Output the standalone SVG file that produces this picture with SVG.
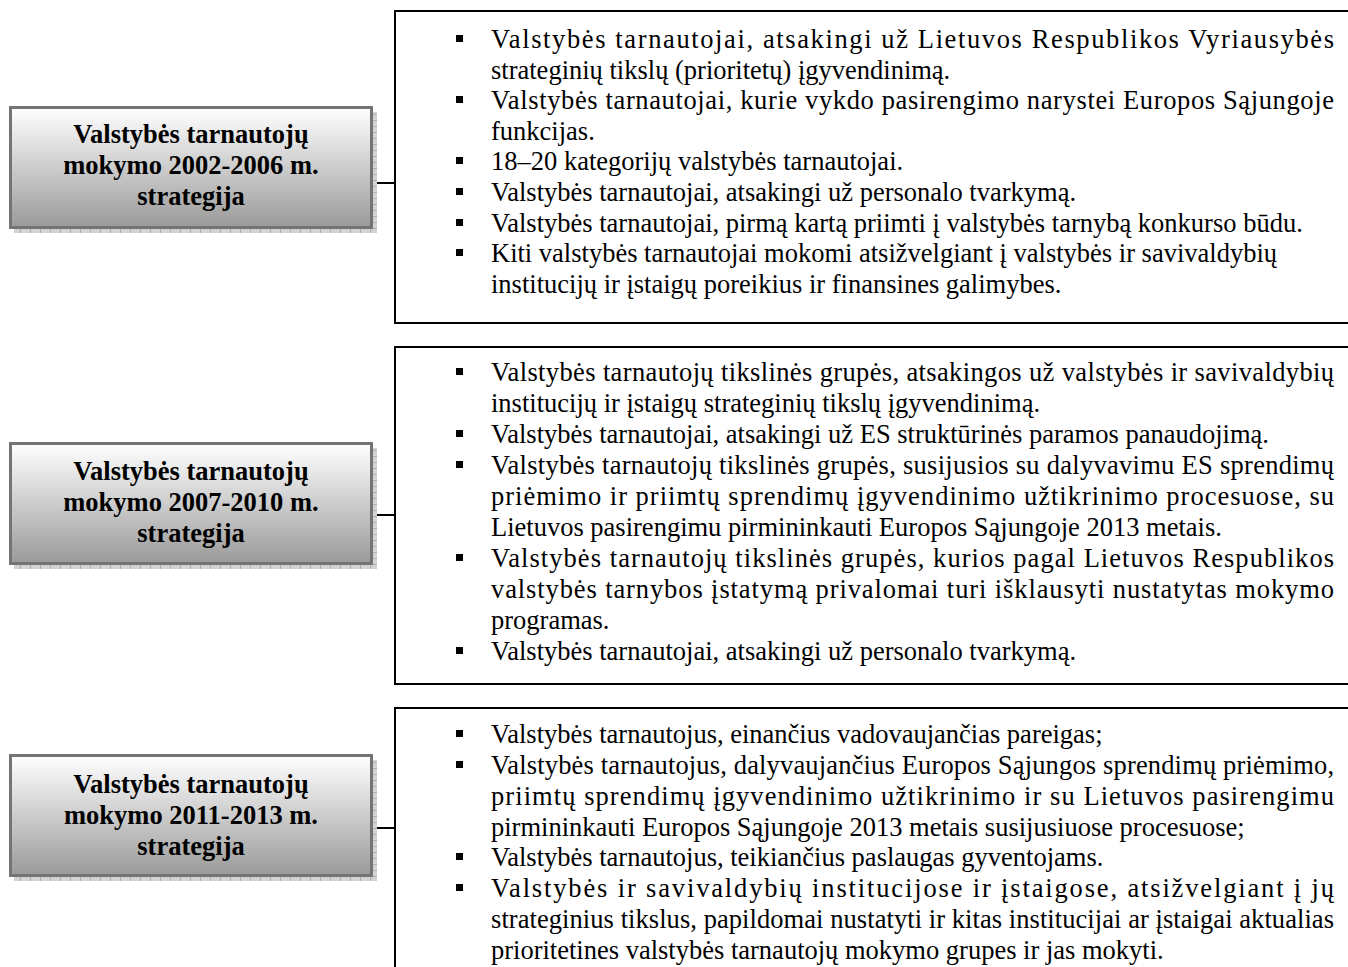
<svg xmlns="http://www.w3.org/2000/svg" width="1348" height="967" viewBox="0 0 1348 967">
<style>
.t{font-family:"Liberation Serif","Times New Roman",serif;font-size:26.5px;fill:#000}
.h{font-family:"Liberation Serif","Times New Roman",serif;font-size:26.5px;font-weight:bold;fill:#000;text-anchor:middle}
.box{fill:url(#g);stroke:#747474;stroke-width:3}
.sh{fill:url(#hatch)}
.frame{fill:none;stroke:#000;stroke-width:2}
.conn{stroke:#000;stroke-width:2;fill:none}
.b{fill:#000}
</style>
<defs>
<linearGradient id="g" x1="0" y1="0" x2="0" y2="1">
<stop offset="0" stop-color="#ffffff"/>
<stop offset="1" stop-color="#9a9a9a"/>
</linearGradient>
<pattern id="hatch" width="10" height="6" patternUnits="userSpaceOnUse">
<rect width="10" height="6" fill="#d4d4d4"/>
<path d="M0 0.5H10M0.5 0V6" stroke="#b0b0b0" stroke-width="1"/>
</pattern>
</defs>

<g id="connectors">
<line class="conn" x1="372" y1="183" x2="395" y2="183"/>
<line class="conn" x1="372" y1="515" x2="395" y2="515"/>
<line class="conn" x1="372" y1="828" x2="395" y2="828"/>
</g>

<g id="strategy-2002">
<path class="sh" d="M373 112H377V233H14V229H373Z"/>
<rect class="box" x="10.5" y="107.5" width="361" height="120"/>
<text class="h" x="191" y="143">Valstybės tarnautojų</text>
<text class="h" x="191" y="174">mokymo 2002-2006 m.</text>
<text class="h" x="191" y="205">strategija</text>
</g>

<g id="strategy-2007">
<path class="sh" d="M373 448H377V569H14V565H373Z"/>
<rect class="box" x="10.5" y="443.5" width="361" height="120"/>
<text class="h" x="191" y="480">Valstybės tarnautojų</text>
<text class="h" x="191" y="511">mokymo 2007-2010 m.</text>
<text class="h" x="191" y="542">strategija</text>
</g>

<g id="strategy-2011">
<path class="sh" d="M373 760H377V881H14V877H373Z"/>
<rect class="box" x="10.5" y="755.5" width="361" height="120"/>
<text class="h" x="191" y="793">Valstybės tarnautojų</text>
<text class="h" x="191" y="824">mokymo 2011-2013 m.</text>
<text class="h" x="191" y="855">strategija</text>
</g>

<g id="groups-2002">
<rect class="frame" x="395" y="11" width="970" height="312"/>
<rect class="b" x="456" y="35" width="7" height="7"/>
<rect class="b" x="456" y="96" width="7" height="7"/>
<rect class="b" x="456" y="157" width="7" height="7"/>
<rect class="b" x="456" y="188" width="7" height="7"/>
<rect class="b" x="456" y="219" width="7" height="7"/>
<rect class="b" x="456" y="249" width="7" height="7"/>
<text class="t" x="491" y="48" textLength="843" lengthAdjust="spacing">Valstybės tarnautojai, atsakingi už Lietuvos Respublikos Vyriausybės</text>
<text class="t" x="491" y="79">strateginių tikslų (prioritetų) įgyvendinimą.</text>
<text class="t" x="491" y="109" textLength="843" lengthAdjust="spacing">Valstybės tarnautojai, kurie vykdo pasirengimo narystei Europos Sąjungoje</text>
<text class="t" x="491" y="140">funkcijas.</text>
<text class="t" x="491" y="170">18–20 kategorijų valstybės tarnautojai.</text>
<text class="t" x="491" y="201">Valstybės tarnautojai, atsakingi už personalo tvarkymą.</text>
<text class="t" x="491" y="232">Valstybės tarnautojai, pirmą kartą priimti į valstybės tarnybą konkurso būdu.</text>
<text class="t" x="491" y="262">Kiti valstybės tarnautojai mokomi atsižvelgiant į valstybės ir savivaldybių</text>
<text class="t" x="491" y="293">institucijų ir įstaigų poreikius ir finansines galimybes.</text>
</g>

<g id="groups-2007">
<rect class="frame" x="395" y="347" width="970" height="337"/>
<rect class="b" x="456" y="368" width="7" height="7"/>
<rect class="b" x="456" y="430" width="7" height="7"/>
<rect class="b" x="456" y="461" width="7" height="7"/>
<rect class="b" x="456" y="554" width="7" height="7"/>
<rect class="b" x="456" y="647" width="7" height="7"/>
<text class="t" x="491" y="381" textLength="843" lengthAdjust="spacing">Valstybės tarnautojų tikslinės grupės, atsakingos už valstybės ir savivaldybių</text>
<text class="t" x="491" y="412">institucijų ir įstaigų strateginių tikslų įgyvendinimą.</text>
<text class="t" x="491" y="443">Valstybės tarnautojai, atsakingi už ES struktūrinės paramos panaudojimą.</text>
<text class="t" x="491" y="474" textLength="843" lengthAdjust="spacing">Valstybės tarnautojų tikslinės grupės, susijusios su dalyvavimu ES sprendimų</text>
<text class="t" x="491" y="505" textLength="843" lengthAdjust="spacing">priėmimo ir priimtų sprendimų įgyvendinimo užtikrinimo procesuose, su</text>
<text class="t" x="491" y="536">Lietuvos pasirengimu pirmininkauti Europos Sąjungoje 2013 metais.</text>
<text class="t" x="491" y="567" textLength="843" lengthAdjust="spacing">Valstybės tarnautojų tikslinės grupės, kurios pagal Lietuvos Respublikos</text>
<text class="t" x="491" y="598" textLength="843" lengthAdjust="spacing">valstybės tarnybos įstatymą privalomai turi išklausyti nustatytas mokymo</text>
<text class="t" x="491" y="629">programas.</text>
<text class="t" x="491" y="660">Valstybės tarnautojai, atsakingi už personalo tvarkymą.</text>
</g>

<g id="groups-2011">
<rect class="frame" x="395" y="708" width="970" height="300"/>
<rect class="b" x="456" y="730" width="7" height="7"/>
<rect class="b" x="456" y="761" width="7" height="7"/>
<rect class="b" x="456" y="853" width="7" height="7"/>
<rect class="b" x="456" y="884" width="7" height="7"/>
<text class="t" x="491" y="743">Valstybės tarnautojus, einančius vadovaujančias pareigas;</text>
<text class="t" x="491" y="774" textLength="843" lengthAdjust="spacing">Valstybės tarnautojus, dalyvaujančius Europos Sąjungos sprendimų priėmimo,</text>
<text class="t" x="491" y="805" textLength="843" lengthAdjust="spacing">priimtų sprendimų įgyvendinimo užtikrinimo ir su Lietuvos pasirengimu</text>
<text class="t" x="491" y="836">pirmininkauti Europos Sąjungoje 2013 metais susijusiuose procesuose;</text>
<text class="t" x="491" y="866">Valstybės tarnautojus, teikiančius paslaugas gyventojams.</text>
<text class="t" x="491" y="897" textLength="843" lengthAdjust="spacing">Valstybės ir savivaldybių institucijose ir įstaigose, atsižvelgiant į jų</text>
<text class="t" x="491" y="928" textLength="843" lengthAdjust="spacing">strateginius tikslus, papildomai nustatyti ir kitas institucijai ar įstaigai aktualias</text>
<text class="t" x="491" y="959">prioritetines valstybės tarnautojų mokymo grupes ir jas mokyti.</text>
</g>
</svg>
